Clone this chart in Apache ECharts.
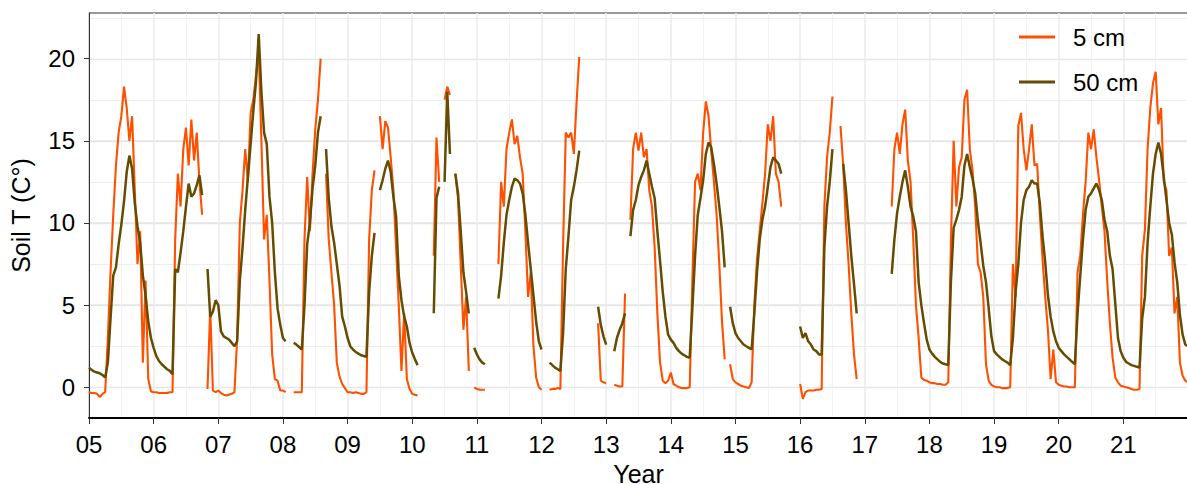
<!DOCTYPE html>
<html><head><meta charset="utf-8">
<script src="https://cdn.jsdelivr.net/npm/echarts@6/dist/echarts.min.js"></script>
<style>html,body{margin:0;padding:0;background:#fff}#c{width:1187px;height:484px}</style>
</head><body><div id="c"></div>
<script>
// samples: 24 per year, starting at Jan 1 of each year
const SAMPLES_PER_YEAR = 24;
const FIRST_YEAR = 2005;
const LAST_YEAR = 2022;
const xTickLabels = ['05','06','07','08','09','10','11','12','13','14','15','16','17','18','19','20','21'];
const yTickValues = [0, 5, 10, 15, 20];
const yMinorValues = [2.5, 7.5, 12.5, 17.5, 22.5];
const _ = null;

// Soil temperature at 5 cm
const t5_2005 = [-0.3,-0.35,-0.35,-0.4,-0.6,-0.4,-0.3,3.0,7.0,10.5,13.5,15.5,16.5,18.3,17.0,15.0,16.5,12.0,7.5,9.5,1.5,6.5,0.5,-0.25];
const t5_2006 = [-0.3,-0.3,-0.35,-0.35,-0.35,-0.35,-0.3,-0.3,9.0,13.0,11.0,14.5,15.8,13.5,16.3,13.8,15.5,12.5,10.5,_,-0.1,4.8,-0.2,-0.3];
const t5_2007 = [-0.2,-0.35,-0.45,-0.5,-0.45,-0.4,-0.3,3.0,10.0,12.0,14.5,12.5,16.7,17.5,19.0,20.5,15.0,9.0,10.5,6.5,2.0,0.5,0.4,-0.2];
const t5_2008 = [-0.2,-0.3,_,_,-0.3,-0.3,-0.3,-0.3,9.0,12.8,9.5,13.0,15.7,17.5,20.0,_,13.0,9.0,7.0,5.0,1.5,0.65,0.2,-0.05];
const t5_2009 = [-0.3,-0.3,-0.35,-0.3,-0.35,-0.4,-0.4,-0.3,9.0,12.0,13.2,_,16.5,14.5,16.2,15.8,14.0,12.0,8.5,5.0,1.0,4.5,0.5,-0.1];
const t5_2010 = [-0.4,-0.45,-0.5,_,_,_,_,_,8.0,15.2,12.5,_,17.5,18.3,17.8,_,13.0,11.5,7.5,3.5,5.5,1.0,_,0.0];
const t5_2011 = [-0.1,-0.15,-0.15,-0.15,_,_,_,_,7.5,12.5,11.0,14.5,15.5,16.3,14.8,15.3,14.0,13.0,9.5,5.5,7.0,2.5,0.6,0.0];
const t5_2012 = [-0.15,_,_,-0.15,-0.1,-0.1,-0.05,-0.1,8.6,15.5,15.2,15.5,14.2,17.3,20.1,_,_,_,_,_,_,3.9,0.4,0.3];
const t5_2013 = [0.25,_,_,0.15,0.1,0.05,0.05,5.7,_,10.2,14.5,15.5,14.4,15.5,14.0,14.5,12.0,11.0,8.5,4.5,1.5,0.4,0.25,0.4];
const t5_2014 = [0.9,0.2,0.1,0.0,-0.05,-0.05,-0.05,0.0,6.5,12.5,13.0,12.0,15.5,17.4,16.5,14.4,12.5,10.5,7.5,4.0,1.7,_,1.4,0.5];
const t5_2015 = [0.3,0.2,0.1,0.05,0.0,-0.05,0.3,5.0,7.8,9.5,11.2,13.0,16.0,15.0,16.5,13.0,12.5,11.0,_,_,_,_,_,_];
const t5_2016 = [0.2,-0.7,-0.3,-0.2,-0.2,-0.2,-0.15,-0.15,-0.1,11.0,14.0,15.5,17.7,_,_,15.9,13.5,10.0,7.5,4.5,2.0,0.5,_,_];
const t5_2017 = [_,_,_,_,_,_,_,_,_,_,11.0,14.5,15.5,14.2,16.0,16.9,13.8,12.5,9.0,5.0,3.0,0.6,0.45,0.4];
const t5_2018 = [0.3,0.25,0.25,0.2,0.2,0.15,0.15,0.3,9.0,15.0,11.0,13.4,14.0,17.5,18.1,14.5,13.2,11.0,7.5,7.0,5.5,1.4,0.4,0.15];
const t5_2019 = [0.05,0.0,0.0,-0.05,-0.05,-0.05,0.0,7.5,5.5,15.9,16.7,14.5,13.2,14.5,16.0,13.5,13.6,10.5,7.8,5.5,3.5,0.5,2.3,0.3];
const t5_2020 = [0.15,0.1,0.05,0.05,0.0,0.0,0.0,7.0,8.0,10.5,12.5,15.5,14.5,15.7,14.0,12.6,11.0,9.5,6.5,3.9,1.8,0.6,0.3,0.1];
const t5_2021 = [0.05,0.0,-0.05,-0.1,-0.15,-0.15,-0.1,8.0,9.6,14.5,17.0,18.5,19.2,16.0,17.0,12.5,12.0,8.0,8.5,4.5,5.5,1.5,0.7,0.4];
const t5_2022start = [0.3];

// Soil temperature at 50 cm
const t50_2005 = [1.2,1.05,0.95,0.9,0.85,0.75,0.6,1.5,4.2,6.8,7.3,8.7,9.9,11.3,13.1,14.1,13.3,11.2,9.8,8.8,6.8,5.6,4.0,3.0];
const t50_2006 = [2.4,1.9,1.6,1.4,1.25,1.1,1.0,0.8,7.2,7.0,8.2,9.5,11.0,12.4,11.6,11.8,12.3,12.9,11.7,_,7.2,4.3,4.6,5.3];
const t50_2007 = [5.0,3.4,3.1,3.0,2.9,2.7,2.5,2.8,6.5,8.5,10.8,12.8,14.8,16.8,18.6,21.5,18.0,15.5,14.8,11.6,10.0,7.0,4.8,3.8];
const t50_2008 = [3.0,2.8,_,_,2.7,2.6,2.45,2.3,5.0,8.7,10.0,12.1,13.5,15.5,16.5,_,14.5,11.5,9.8,8.8,7.5,6.2,4.3,3.7];
const t50_2009 = [3.0,2.5,2.3,2.15,2.05,1.95,1.9,1.85,5.8,8.0,9.4,_,12.0,12.6,13.3,13.8,13.1,11.6,10.4,6.8,5.3,4.3,3.7,2.7];
const t50_2010 = [2.1,1.7,1.35,_,_,_,_,_,4.5,11.5,12.2,_,12.5,18.0,14.2,_,13.0,11.8,9.5,7.0,5.8,4.5,_,2.4];
const t50_2011 = [2.0,1.7,1.5,1.4,_,_,_,_,5.4,6.8,8.8,10.5,11.4,12.2,12.7,12.6,12.4,11.8,10.5,8.8,7.2,5.6,4.0,2.8];
const t50_2012 = [2.3,_,_,1.5,1.35,1.2,1.1,1.0,3.3,7.2,9.2,11.4,12.2,13.2,14.4,_,_,_,_,_,_,4.9,3.8,3.1];
const t50_2013 = [2.6,_,_,2.2,3.0,3.5,3.9,4.5,_,9.2,10.8,11.4,12.3,12.8,13.2,13.8,13.0,12.2,11.5,9.5,7.7,5.8,4.3,3.2];
const t50_2014 = [2.9,2.7,2.4,2.2,2.05,1.95,1.85,1.8,4.8,8.0,10.5,11.5,12.6,14.2,14.9,14.6,13.6,12.4,11.0,9.5,7.3,_,4.9,3.9];
const t50_2015 = [3.3,3.0,2.8,2.6,2.5,2.4,2.3,4.5,7.0,9.0,10.2,11.0,12.2,13.4,14.0,13.8,13.6,13.0,_,_,_,_,_,_];
const t50_2016 = [3.7,3.0,3.3,2.8,2.6,2.3,2.2,2.0,2.0,8.5,11.0,12.5,14.5,_,_,_,13.6,12.0,10.0,8.0,6.3,4.5,_,_];
const t50_2017 = [_,_,_,_,_,_,_,_,_,_,6.9,9.0,10.6,11.6,12.5,13.2,12.2,11.0,10.4,9.5,6.4,5.0,3.9,2.9];
const t50_2018 = [2.3,2.05,1.85,1.7,1.55,1.45,1.4,1.36,6.5,9.7,10.2,10.8,11.6,13.5,14.2,13.4,12.7,11.8,10.1,8.8,7.4,6.4,4.8,3.1];
const t50_2019 = [2.2,2.0,1.85,1.7,1.6,1.5,1.35,3.0,5.8,7.5,10.0,11.4,12.0,12.2,12.6,12.4,12.4,11.2,9.2,7.6,5.6,4.3,3.4,2.8];
const t50_2020 = [2.4,2.2,2.0,1.85,1.7,1.55,1.4,4.5,6.8,9.0,10.8,11.6,11.8,12.1,12.4,12.0,11.4,10.2,9.5,8.0,7.2,5.1,3.0,2.2];
const t50_2021 = [1.8,1.55,1.45,1.35,1.3,1.25,1.2,4.2,5.5,8.8,11.0,13.0,14.2,14.9,14.2,12.8,11.4,10.0,9.3,7.6,6.4,4.4,3.2,2.6];
const t50_2022start = [2.5];

const t5Years = [t5_2005,t5_2006,t5_2007,t5_2008,t5_2009,t5_2010,t5_2011,t5_2012,t5_2013,t5_2014,t5_2015,t5_2016,t5_2017,t5_2018,t5_2019,t5_2020,t5_2021,t5_2022start];
const t50Years = [t50_2005,t50_2006,t50_2007,t50_2008,t50_2009,t50_2010,t50_2011,t50_2012,t50_2013,t50_2014,t50_2015,t50_2016,t50_2017,t50_2018,t50_2019,t50_2020,t50_2021,t50_2022start];

function toPoints(yearArrays) {
  const pts = [];
  yearArrays.forEach((arr, k) => {
    arr.forEach((v, i) => pts.push([FIRST_YEAR + k + i / SAMPLES_PER_YEAR, v]));
  });
  return pts;
}

const C5 = '#FF5000';
const C50 = '#654C00';
const FONT = 'Liberation Sans, Arial, Helvetica, sans-serif';

const PANEL = {left: 89, right: -1, top: 13, bottom: 66};
const Y_MIN = -1.87, Y_MAX = 22.78;

const chart = echarts.init(document.getElementById('c'), null, {renderer: 'svg'});

// horizontal grid lines: built after layout from the axis scale
function hLineElements() {
  const els = [];
  const x0 = chart.convertToPixel({xAxisIndex: 0}, FIRST_YEAR);
  const x1 = chart.convertToPixel({xAxisIndex: 0}, LAST_YEAR);
  yTickValues.forEach(v => {
    const y = Math.round(chart.convertToPixel({yAxisIndex: 0}, v)) + 0.5;
    els.push({type: 'line', z: 1, silent: true, shape: {x1: x0, y1: y, x2: x1, y2: y}, style: {stroke: '#E6E6E6', lineWidth: 1.5}});
  });
  yMinorValues.forEach(v => {
    const y = Math.round(chart.convertToPixel({yAxisIndex: 0}, v)) + 0.5;
    els.push({type: 'line', z: 1, silent: true, shape: {x1: x0, y1: y, x2: x1, y2: y}, style: {stroke: '#EEEEEE', lineWidth: 1}});
  });
  return els;
}

chart.setOption({
  animation: false,
  textStyle: {fontFamily: FONT},
  grid: {left: PANEL.left, right: PANEL.right, top: PANEL.top, bottom: PANEL.bottom, outerBoundsMode: 'none', containLabel: false,
    show: true, borderColor: '#333', borderWidth: 1},
  xAxis: {
    type: 'value', min: FIRST_YEAR, max: LAST_YEAR, interval: 1, z: 2,
    name: 'Year', nameLocation: 'middle', nameGap: 43,
    nameTextStyle: {fontSize: 25, color: '#000', fontFamily: FONT},
    axisLine: {show: true, onZero: false, lineStyle: {color: '#000', width: 2}},
    axisTick: {show: true, length: 6, lineStyle: {color: '#333', width: 1}},
    axisLabel: {fontSize: 24, color: '#000', margin: 14, fontFamily: FONT,
      formatter: v => xTickLabels[Math.round(v) - FIRST_YEAR] || ''},
    splitLine: {show: true, lineStyle: {color: '#EBEBEB', width: 1.5}},
    minorTick: {show: false, splitNumber: 2},
    minorSplitLine: {show: true, lineStyle: {color: '#EFEFEF', width: 0.8}}
  },
  yAxis: {
    type: 'value', min: Y_MIN, max: Y_MAX, z: 2,
    name: 'Soil T (C°)', nameLocation: 'middle', nameGap: 56, nameRotate: 90,
    nameTextStyle: {fontSize: 25, color: '#000', fontFamily: FONT},
    axisLine: {show: true, onZero: false, lineStyle: {color: '#333', width: 1}},
    axisTick: {show: true, length: 5, customValues: yTickValues, lineStyle: {color: '#333'}},
    axisLabel: {fontSize: 24, color: '#000', margin: 14, fontFamily: FONT, customValues: yTickValues},
    splitLine: {show: true, showMinLine: false, showMaxLine: false, lineStyle: {color: '#E6E6E6', width: 1.5}}
  },
  legend: {
    data: ['5 cm', '50 cm'], orient: 'vertical', left: 1019, top: 22, padding: 0,
    itemGap: 15, itemWidth: 36, itemHeight: 3, icon: 'rect', selectedMode: false,
    textStyle: {fontSize: 24, color: '#000', fontFamily: FONT, lineHeight: 30, padding: [0, 0, 0, 13]}
  },
  series: [
    {name: '5 cm', type: 'line', data: toPoints(t5Years), showSymbol: false, symbol: 'none', z: 3,
      connectNulls: false, lineStyle: {color: C5, width: 2.1}, itemStyle: {color: C5}},
    {name: '50 cm', type: 'line', data: toPoints(t50Years), showSymbol: false, symbol: 'none', z: 4,
      connectNulls: false, lineStyle: {color: C50, width: 2.5}, itemStyle: {color: C50}}
  ]
});
chart.setOption({graphic: {elements: hLineElements()}});
</script></body></html>
